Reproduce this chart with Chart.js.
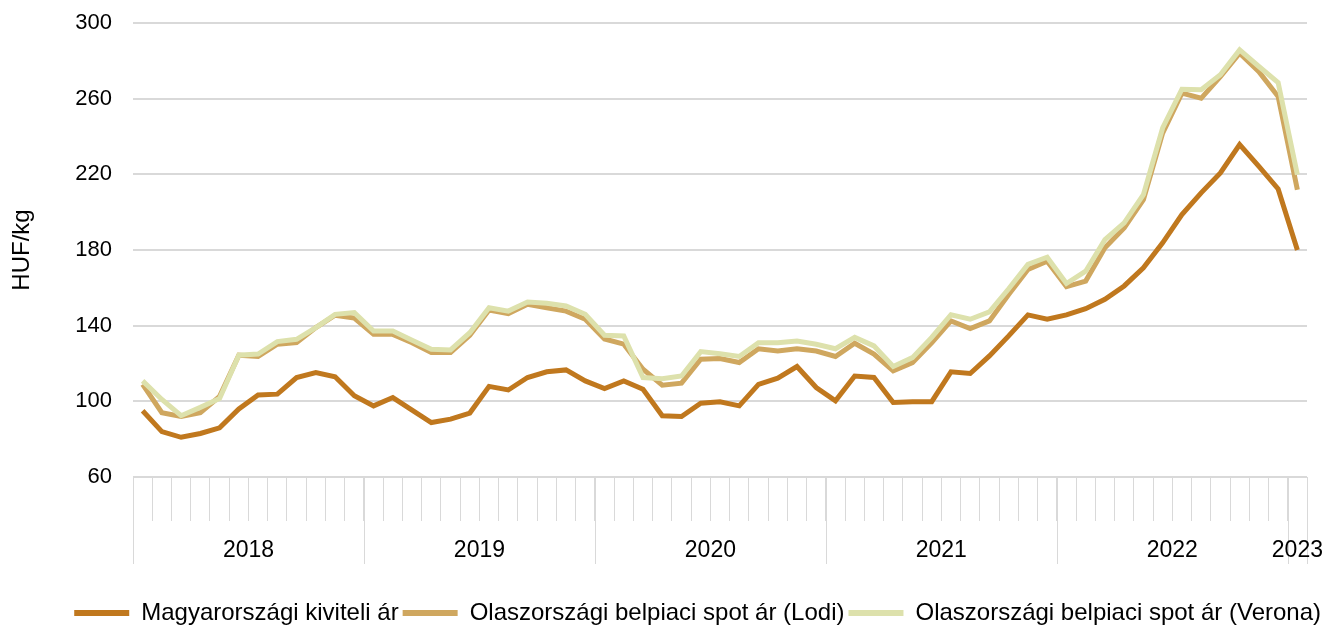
<!DOCTYPE html>
<html>
<head>
<meta charset="utf-8">
<script src="https://cdn.jsdelivr.net/npm/chart.js@4"></script>
<style>
  body { margin: 0; background: #fff; }
  #wrap { width: 1325px; height: 630px; }
</style>
</head>
<body>
<div id="wrap"><canvas id="chart" width="1325" height="630"></canvas></div>
<script>
// havi adatok 2018 jan - 2023 jan
const years = ['2018', '2019', '2020', '2021', '2022', '2023'];
const months = [];
years.forEach(y => {
    for (let m = 1; m <= 12; m++) {
        if (y === '2023' && m > 1) break;
        months.push(y + '-' + String(m).padStart(2, '0'));
    }
});

const magyar = [95, 84, 81, 83, 86, 96, 103.4, 103.8, 112.6, 115.2, 113, 103,
    97.6, 102, 95.4, 88.8, 90.6, 93.8, 107.9, 106, 112.6, 115.6, 116.6, 110.8,
    106.8, 110.8, 106.4, 92.4, 92, 99, 99.8, 97.6, 109, 112.2, 118.4, 107.3,
    100.3, 113.4, 112.6, 99.4, 99.8, 99.8, 115.6, 114.7, 124, 134.6, 145.7, 143.4,
    145.7, 149, 153.9, 161, 170.6, 183.8, 198.7, 210.2, 220.7, 235.7, 224.2, 212.3,
    180];

const lodi = [109, 94, 92, 94, 102.6, 124.4, 123.7, 130.2, 131, 139, 145.5, 144,
    135.4, 135.4, 131, 125.8, 125.8, 134.9, 148.3, 146.3, 151.3, 149.5, 147.7, 143.4,
    133, 130.2, 117, 108.5, 109.6, 122.3, 122.6, 120.5, 127.8, 126.6, 127.8, 126.6,
    123.7, 130.7, 125, 116.1, 120.5, 131, 142.5, 138.5, 142.5, 156.5, 169.7, 174.1,
    160.6, 163.6, 181.2, 191.7, 206.6, 241.8, 262.9, 260.2, 271.7, 284, 274.3, 261.1,
    211.9];

const verona = [110.8, 101, 92.4, 96.8, 101.5, 124.4, 125, 131.6, 132.8, 139, 146, 146.9,
    137.2, 137.2, 132.3, 127.5, 127.2, 136.3, 149.5, 147.7, 152.5, 151.8, 150.4, 146,
    134.9, 134.6, 112.6, 112, 113.4, 126.3, 125.2, 123.7, 131, 131, 131.9, 130.2,
    127.8, 133.8, 129.3, 118.4, 123.1, 133.8, 145.8, 143.4, 147.3, 159.5, 172.4, 176.2,
    162.3, 168.8, 185.5, 194.3, 209.3, 244.5, 265, 264.7, 272.6, 285.8, 277, 268.5,
    219.8];

const yTicks = [60, 100, 140, 180, 220, 260, 300];

const seriesNames = ['Magyarországi kiviteli ár', 'Olaszországi belpiaci spot ár (Lodi)', 'Olaszországi belpiaci spot ár (Verona)'];
const seriesColors = ['#c0781e', '#cfa75f', '#dde1ac'];

const FONT = 'Liberation Sans, Arial, sans-serif';
const GRID = '#d9d9d9';

// evszamok es hosszu elvalaszto vonalak az x tengely alatt
const yearAxisPlugin = {
    id: 'yearAxis',
    afterDraw(chart) {
        const ctx = chart.ctx;
        const xs = chart.scales.x;
        const top = chart.chartArea.bottom;
        let start = 0;
        const bounds = [xs.left];
        const centers = [];
        years.forEach(y => {
            const n = months.filter(m => m.startsWith(y)).length;
            const end = start + n;
            const left = start === 0 ? xs.left : (xs.getPixelForValue(start - 1) + xs.getPixelForValue(start)) / 2;
            const right = end >= months.length ? xs.right : (xs.getPixelForValue(end - 1) + xs.getPixelForValue(end)) / 2;
            bounds.push(right);
            centers.push([(left + right) / 2, y]);
            start = end;
        });
        ctx.save();
        ctx.strokeStyle = GRID;
        ctx.lineWidth = 1;
        bounds.forEach(b => {
            const bx = Math.round(b) + 0.5;
            ctx.beginPath();
            ctx.moveTo(bx, top);
            ctx.lineTo(bx, top + 87);
            ctx.stroke();
        });
        ctx.fillStyle = '#000';
        ctx.font = '23px ' + FONT;
        ctx.textAlign = 'center';
        ctx.textBaseline = 'middle';
        centers.forEach(([cx, label]) => ctx.fillText(label, cx, top + 74));
        ctx.restore();
    }
};

new Chart(document.getElementById('chart').getContext('2d'), {
    type: 'line',
    data: {
        labels: months,
        datasets: [
            { label: seriesNames[0], data: magyar, borderColor: seriesColors[0], backgroundColor: seriesColors[0], order: 0 },
            { label: seriesNames[1], data: lodi, borderColor: seriesColors[1], backgroundColor: seriesColors[1], order: 2 },
            { label: seriesNames[2], data: verona, borderColor: seriesColors[2], backgroundColor: seriesColors[2], order: 1 }
        ].map(d => Object.assign(d, { borderWidth: 5, pointRadius: 0, tension: 0, fill: false }))
    },
    options: {
        responsive: false,
        animation: false,
        layout: { padding: { top: 23, right: 0, bottom: -5, left: 0 } },
        plugins: {
            tooltip: { enabled: false },
            legend: {
                position: 'bottom',
                align: 'end',
                labels: {
                    color: '#000',
                    font: { family: FONT, size: 24 },
                    boxWidth: 55,
                    boxHeight: 6,
                    padding: 4,
                    sort: (a, b) => a.datasetIndex - b.datasetIndex,
                    generateLabels: chart => Chart.defaults.plugins.legend.labels.generateLabels(chart)
                        .map(l => Object.assign(l, { strokeStyle: 'rgba(0,0,0,0)' }))
                }
            }
        },
        scales: {
            x: {
                type: 'category',
                offset: true,
                border: { display: false },
                grid: {
                    offset: true,
                    drawOnChartArea: false,
                    drawTicks: true,
                    tickLength: 44,
                    color: GRID,
                    lineWidth: 1
                },
                ticks: { display: false },
                afterFit: s => { s.height = 120; s.paddingLeft = 0; s.paddingRight = 18; }
            },
            y: {
                min: 60,
                max: 300,
                afterBuildTicks: s => { s.ticks = yTicks.map(v => ({ value: v })); },
                border: { display: false },
                grid: { color: GRID, lineWidth: 2, drawTicks: false },
                ticks: {
                    color: '#000',
                    font: { family: FONT, size: 22 },
                    padding: 21
                },
                title: {
                    display: true,
                    text: 'HUF/kg',
                    color: '#000',
                    font: { family: FONT, size: 24 },
                    padding: { top: 8, bottom: 0 }
                },
                afterFit: s => { s.width = 133; s.paddingTop = 0; s.paddingBottom = 0; }
            }
        }
    },
    plugins: [yearAxisPlugin]
});
</script>
</body>
</html>
